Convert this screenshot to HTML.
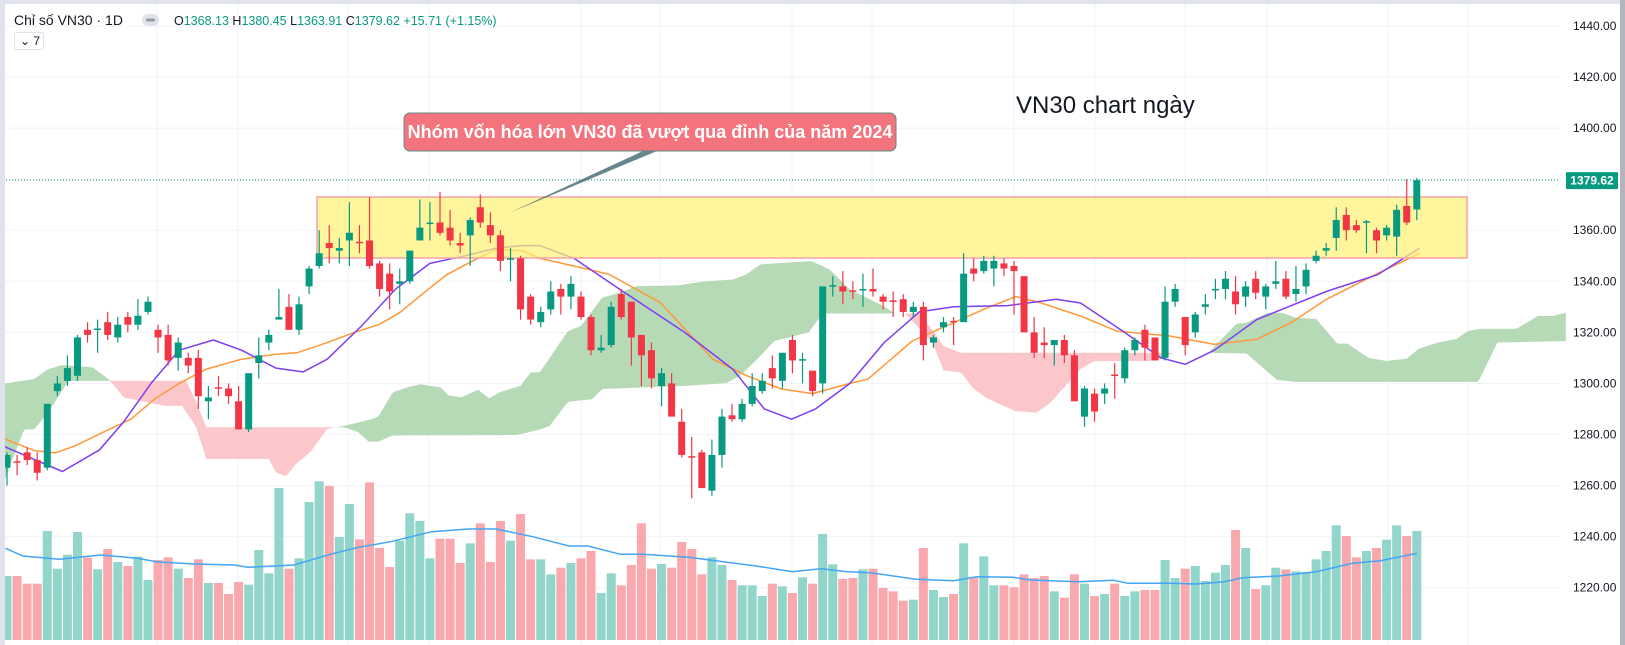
<!DOCTYPE html>
<html><head><meta charset="utf-8"><style>
html,body{margin:0;padding:0;background:#fff;}
svg{display:block;font-family:"Liberation Sans",sans-serif;}
</style></head><body>
<svg id="chart" width="1625" height="645" viewBox="0 0 1625 645" xmlns="http://www.w3.org/2000/svg">
<rect x="0" y="0" width="1625" height="645" fill="#fff"/>
<g id="grid"></g>
<g id="vol"></g>
<g id="cloud"></g>
<g id="mas"></g>
<rect x="317" y="197" width="1150" height="61" fill="#fff176" fill-opacity="0.72" stroke="#f5a3a8" stroke-width="1.5"/>
<g id="candles"></g>
<line x1="0" y1="180" x2="1560" y2="180" stroke="#089981" stroke-width="1" stroke-dasharray="1,2"/>
<g id="axis"></g>
<polygon points="643,151 657,151 509,213" fill="#4e7278" fill-opacity="0.85"/>
<rect x="404" y="113" width="492" height="38" rx="6" fill="#f4747e" stroke="#5f8a8b" stroke-width="1"/>
<text x="650" y="138" text-anchor="middle" font-size="18" font-weight="bold" fill="#fff">Nhóm vốn hóa lớn VN30 đã vượt qua đỉnh của năm 2024</text>
<text x="1016" y="113" font-size="24" fill="#131722">VN30 chart ngày</text>
<rect x="0" y="0" width="1625" height="4" fill="#e0e3eb"/>
<rect x="0" y="0" width="5" height="645" fill="#e0e3eb"/>
<rect x="1620" y="0" width="5" height="645" fill="#b2b5be"/>
<g>
<text x="14" y="25" font-size="14" fill="#131722">Chỉ số VN30 · 1D</text>
<rect x="142" y="14" width="17" height="12" rx="6" fill="#e0e3eb"/>
<rect x="146" y="18.5" width="9" height="3" rx="1.5" fill="#9598a1"/>
<text x="174" y="25" font-size="12.5" fill="#089981"><tspan fill="#131722">O</tspan>1368.13 <tspan fill="#131722">H</tspan>1380.45 <tspan fill="#131722">L</tspan>1363.91 <tspan fill="#131722">C</tspan>1379.62 +15.71 (+1.15%)</text>
<rect x="14.5" y="32.5" width="29" height="17" rx="2" fill="#fff" stroke="#e0e3eb"/>
<text x="20" y="45" font-size="12" fill="#131722">⌄ 7</text>
</g>
</svg>
<script>
const priceTicks = [1440,1420,1400,1380,1360,1340,1320,1300,1280,1260,1240,1220];
const tickLabels = ["1440.00","1420.00","1400.00","","1360.00","1340.00","1320.00","1300.00","1280.00","1260.00","1240.00","1220.00"];
const lastPrice = 1379.62;
const opens = [1267,1269.5,1273,1270,1267,1297,1301,1303,1321,1321,1324,1318,1326,1323,1328,1321,1319,1310,1310,1310,1293,1298.5,1298,1293,1282,1308,1316,1325,1330,1321,1338,1346,1355,1352,1356,1355.5,1356,1347,1343,1339,1340,1356,1362.5,1363,1361,1355,1358,1369,1362,1358,1348.5,1349,1334,1324,
1329,1337,1334,1334,1326,1313,1315,1335,1332,1319,1313,1299,1300,1285,1271.5,1273,1258,1272,1287.5,1286,1292,1297,1306,1301,1317,1309,1305,1300,1338,1338,1336.5,1336.5,1337,1334,1332.5,1333,1328,1330,1316,1322,1324.5,1324,1345,1344,1345,1347,1346,1342,1320,1316,1315,1317,1311,
1287,1296,1296,1303.5,1302,1313,1321,1318,1310,1332,1326,1320,1330,1336.5,1337,1336,1334,1341,1334,1339,1341,1335,1338,1348,1352,1357,1366,1362,1363,1360,1358,1357.5,1369.5,1368.13];
const highs = [1273,1272,1275,1273,1292,1303,1311,1319,1324,1325,1328,1326,1328,1333,1334,1323,1323,1318,1312,1313,1299,1303,1300,1299,1304,1318,1321,1337,1335,1334,1346,1360,1362,1357,1371,1362,1373,1348,1347,1345,1352,1372,1371,1375,1368,1359,1365,1374,1367,1360,1353,1350,1335,1330,
1340,1339,1342,1336,1327,1319,1332,1337,1332,1319,1316,1306,1304,1290,1279,1274,1278,1290,1292,1294,1304,1304,1311,1312,1319,1312,1305,1338,1342,1344,1340,1343,1345,1335,1336,1335,1332,1332,1319,1326,1326,1351,1349,1350,1350,1349,1348,1342,1326,1322,1317,1319,1313,
1299,1298,1300,1308,1314,1318,1323,1318,1338,1339,1326,1328,1335,1341,1344,1342,1340,1344,1339,1348,1344,1346,1347,1352,1355,1369,1369,1364,1364,1361,1362,1370,1380,1380.45];
const lows = [1260,1264,1268,1262,1266,1295,1299,1301,1316,1312,1317,1316,1320,1321,1327,1312,1307,1305,1304,1290,1286,1295,1292,1282,1281,1302,1313,1325,1321,1319,1335,1345,1347,1347,1346,1351,1345,1334,1329,1331,1339,1356,1356,1358,1354,1351,1346,1361,1355,1344,1340,1325,1323,1322,
1327,1327,1329,1325,1311,1312,1314,1325,1307,1299,1298,1291,1287,1271,1255,1259,1256,1267,1285,1285,1291,1296,1298,1298,1304,1300,1295,1296,1334,1331,1333,1330,1334,1329,1326,1326,1326,1309,1314,1320,1315,1324,1340,1343,1338,1342,1327,1320,1310,1310,1307,1308,1293,
1283,1285,1292,1294,1300,1311,1309,1309,1309,1330,1311,1318,1327,1333,1333,1327,1330,1333,1329,1337,1333,1332,1335,1347,1350,1352,1356,1359,1351,1351,1356,1350,1362,1363.91];
const closes = [1272,1269,1270,1265,1292,1300,1306,1318,1319,1321.5,1319,1323,1323,1326.5,1332,1318,1309,1316,1307,1295,1294.5,1298,1295,1282,1304,1311,1319,1326,1321,1331,1345,1351,1353,1353,1359,1355,1346,1337,1336,1340,1352,1361,1363,1359,1356,1354,1364,1363,1358,1348,1349,1329,1325,1328,
1336,1334,1339,1326,1313,1314,1330,1326,1318,1311,1302,1304,1287,1272,1271,1259,1272,1287,1286,1292,1299,1301,1302,1312,1309,1309.5,1297,1338,1338.5,1336,1336,1337,1336,1332,1332,1328,1330,1315,1318,1324,1324,1343,1343,1348,1348,1345,1344,1320,1312,1315,1317,1311,1293,
1298,1289,1298,1303,1313,1317,1314,1309,1332,1337,1315,1327,1331,1337,1341,1331,1338,1335.5,1338,1340,1334,1337,1344.5,1350,1353,1364,1360,1360,1363.5,1356,1361,1368,1363,1379.62];
const volumes = [192,192,169,169,327,214,256,324,247,212,273,234,222,250,180,240,248,214,186,242,171,171,138,174,166,270,200,456,214,245,414,476,462,309,408,302,473,276,219,298,380,357,245,304,304,231,290,350,234,357,298,378,242,242,197,217,231,245,267,141,200,164,225,350,214,228,217,294,273,197,248,225,
180,164,164,132,169,161,141,188,169,318,227,183,186,212,214,156,146,118,121,276,150,129,138,290,186,251,164,164,158,197,186,192,146,127,197,169,132,138,169,132,146,150,150,240,186,214,222,177,202,225,330,276,153,164,217,212,206,204,242,267,344,312,248,267,276,301,344,312,327];
const volMaIdx = [0.85,2.6,6.2,10.3,14,15.8,19.5,23.6,24.9,29.5,33.1,35.9,39.1,43.2,46.8,49.6,53.2,56.8,58.7,61.9,64.1,68.7,70.8,75.4,79,81.8,84.5,86.8,91.3,95,97.3,100.9,102.7,107.3,110.9,112.3,116.4,119.1,121.9,123.7,127.3,131,134.6,137.4,141];
const volMaVal = [275,252,242,255,245,235,228,225,218,225,257,278,295,325,333,333,310,282,282,257,257,248,240,222,205,214,205,202,182,178,190,188,180,175,179,170,170,168,175,187,192,205,230,238,260];
const fastMaIdx = [0.3,6.5,10.2,12.6,15.3,18.1,21.5,24.3,27.7,30.4,32.8,36.2,39.6,43,46.5,49.6,52.2,53.9,57.3,61.8,68.3,73.1,76.2,78.9,81.3,84.7,88.1,91.6,95,100.4,105.2,107.6,111.8,115.6,118,120.9,125.1,132,137.1,141.3];
const fastMaVal = [1276,1265.5,1274,1285,1300,1313,1317,1313,1306,1304.5,1309.5,1322.5,1337,1347,1350,1353,1354,1354,1349,1337,1320,1305.5,1290,1286,1290,1300,1316,1328,1330,1330.5,1333,1331.5,1320.5,1310,1307.5,1313,1325,1336,1342.6,1353];
const slowMaIdx = [0.3,3.7,5.8,7.8,10.6,13.3,15.7,18.1,20.8,24.3,27.7,29.8,32.8,35.5,37.9,40,42.4,44.7,47.5,49.6,52.2,53.9,57.3,60.8,65.9,71.1,74.5,77.9,81,84.7,86.5,90.9,95,98.4,101.2,103.6,107.6,111.2,116.4,120.9,125.1,128.5,132,137.1,141.3];
const slowMaVal = [1279,1273.7,1272.8,1275.6,1281,1286,1294,1300,1305.6,1309.5,1311.4,1312,1316,1320,1323,1327.7,1335.5,1342.7,1348.5,1352.5,1352,1349,1346,1342.7,1331.6,1309.5,1303,1297.8,1296,1300,1301.7,1316.6,1323.8,1329.7,1334,1331.6,1326.4,1320.5,1318.6,1315.3,1317.3,1323.8,1332.9,1343,1351];
const spanAIdx = [0.8,3.7,5.1,6.5,9.5,11.2,12.6,16.7,18.4,19.8,20.8,27,27.7,28.7,29.7,31.1,32.8,34.5,37.2,37.9,39.3,40.7,42,44.1,44.8,46.1,47.8,48.9,49.9,52,53,53.9,56.7,58,60.1,61.8,63.5,67.6,70.3,73.1,74.4,75.8,77.9,80.9,82.7,84.7,88.1,89.2,90.2,92.9,94,95.7,97,98.4,101.1,103.2,104.6,107.6,109,114.5,115.5,116.9,120.3,123.1,124.1,126.2,127.6,129,131,133.1,134.1,136.2,138,140,141.2,143.1,145,146.05,147.3,150.9,153,154.5,155.8];
const spanAVal = [1300,1301.7,1305.6,1307.2,1306.3,1301.3,1294.5,1291.2,1291.2,1282.8,1270.4,1270.4,1265.2,1263.5,1268.5,1273,1282.2,1283.4,1286,1287.1,1296.5,1298.4,1299.7,1298.4,1295.4,1294.5,1297.5,1294.1,1296.5,1299.1,1304.3,1304.3,1320.5,1322.5,1333.6,1335.5,1338.1,1338.4,1340,1340.7,1342.7,1346.6,1347.2,1347.9,1344.6,1336.8,1330.2,1327.4,1327.4,1316,1305,1304.4,1297.8,1294,1289.2,1288.5,1292.4,1305.6,1308.8,1308.8,1309.5,1312,1312,1323.4,1323.8,1327.7,1327.7,1325.7,1325.3,1315.6,1315.6,1310,1308.8,1309.7,1313.6,1316,1317.5,1320.5,1321.4,1321.4,1326.4,1326.4,1327.7];
const spanBIdx = [0.8,2.7,3.7,5.1,7.1,18.8,19.8,20.8,32.8,34.5,35.9,36.9,37.9,39.3,51.6,53.9,54.9,56.7,59.1,60.1,68.6,72.4,73.8,75.5,77.2,80.6,81.6,82.3,91.6,92.9,94,95.7,107.6,116.9,120.3,124.1,127.1,129,147.1,149,155.8];
const spanBVal = [1262.6,1282,1282,1288.6,1301,1301,1292.6,1282.8,1282.8,1282.8,1280.9,1277.2,1277.2,1279.6,1279.8,1281.9,1283.4,1292.8,1293.8,1297.8,1299.1,1300.1,1303,1309.5,1316.6,1320,1325.2,1327.4,1327.4,1321,1314.7,1312,1312,1312,1312,1311.7,1301.4,1300.6,1300.6,1316,1316.6];

const NS = "http://www.w3.org/2000/svg";
const X0 = 7, DX = 10.07;
function xAt(i){ return X0 + (i-1)*DX; }          // i: 1-based bar index
function yP(p){ return 26 + (1440-p)*2.553; }
const VOL_BASE = 640;
function yV(v){ return VOL_BASE - v/3; }
function mk(tag, attrs, parent){
  const el = document.createElementNS(NS, tag);
  for (const k in attrs) el.setAttribute(k, attrs[k]);
  parent.appendChild(el);
  return el;
}
function interp(idx, val, t){
  if (t <= idx[0]) return val[0];
  for (let k=1;k<idx.length;k++){
    if (t <= idx[k]){ const f=(t-idx[k-1])/(idx[k]-idx[k-1]); return val[k-1]+f*(val[k]-val[k-1]); }
  }
  return val[val.length-1];
}

// grid
const grid = document.getElementById('grid');
priceTicks.forEach(p=>{
  const l = mk('line',{x1:5,x2:1560,y1:yP(p),y2:yP(p),stroke:'#f0f3fa','stroke-width':1},grid);
  
  
});
[157,238,348,429,581,660,792,872,1014,1095,1185,1267,1388,1468].forEach(x=>{
  const l = mk('line',{x1:x,x2:x,y1:4,y2:645,stroke:'#f0f3fa','stroke-width':1},grid);
  
  
});

// volume
const vol = document.getElementById('vol');
volumes.forEach((v,k)=>{
  const up = closes[k] >= opens[k];
  const r = mk('rect',{x:xAt(k+1)-4.5,y:yV(v),width:9,height:v/3,fill:up?'#92d5cb':'#f9a9ae'},vol);
  
  
});
{
  let d=''; volMaIdx.forEach((t,k)=>{ d += (k?'L':'M')+xAt(t).toFixed(1)+','+yV(volMaVal[k]).toFixed(1); });
  const p = mk('path',{d:d,fill:'none',stroke:'#42a5f5','stroke-width':1.5},vol);
  
  
}

// cloud
const cloud = document.getElementById('cloud');
{
  const t0 = 0.8, t1 = 155.8, st = 0.2;
  let gTop=[], gBot=[], rTop=[], rBot=[];
  for (let t=t0; t<=t1+1e-6; t+=st){
    const a = interp(spanAIdx,spanAVal,t), b = interp(spanBIdx,spanBVal,t);
    const x = xAt(t).toFixed(1);
    gTop.push(x+','+yP(Math.max(a,b)).toFixed(1)); gBot.push(x+','+yP(b).toFixed(1));
    rTop.push(x+','+yP(b).toFixed(1)); rBot.push(x+','+yP(Math.min(a,b)).toFixed(1));
  }
  const g = mk('polygon',{points:gTop.concat(gBot.reverse()).join(' '),fill:'#b5dab5'},cloud);
  
  
  const r = mk('polygon',{points:rTop.concat(rBot.reverse()).join(' '),fill:'#fcc7cb'},cloud);
  
  
}

// moving averages
const mas = document.getElementById('mas');
function maPath(idx,val,color,name){
  let d=''; idx.forEach((t,k)=>{ d += (k?'L':'M')+xAt(t).toFixed(1)+','+yP(val[k]).toFixed(1); });
  const p = mk('path',{d:d,fill:'none',stroke:color,'stroke-width':1.5,'stroke-linejoin':'round'},mas);
  
  
}
maPath(slowMaIdx,slowMaVal,'#ff9838','ma-slow-line');
maPath(fastMaIdx,fastMaVal,'#7e3ff2','ma-fast-line');

// candles
const cg = document.getElementById('candles');
opens.forEach((o,k)=>{
  const c = closes[k], up = c >= o, col = up ? '#089981' : '#f23645';
  const x = xAt(k+1);
  const w = mk('line',{x1:x,x2:x,y1:yP(highs[k]),y2:yP(lows[k]),stroke:col,'stroke-width':1.2},cg);
  
  
  const top = yP(Math.max(o,c)), h = Math.max(1.5, yP(Math.min(o,c))-top);
  const b = mk('rect',{x:x-3.5,y:top,width:7,height:h,fill:col},cg);
  
  
});

// axis
const ax = document.getElementById('axis');
priceTicks.forEach((p,k)=>{
  if (!tickLabels[k]) return;
  const t = mk('text',{x:1573,y:yP(p)+4,'font-size':12,fill:'#131722'},ax);
  t.textContent = tickLabels[k];
  
  
});
{
  const y = yP(lastPrice);
  const r = mk('rect',{x:1566,y:y-8,width:52,height:17,fill:'#089981',rx:1},ax);
  
  
  const t = mk('text',{x:1592,y:y+4.5,'font-size':12,'font-weight':'bold',fill:'#fff','text-anchor':'middle'},ax);
  t.textContent = lastPrice.toFixed(2);
  
  
}
</script>
</body></html>
